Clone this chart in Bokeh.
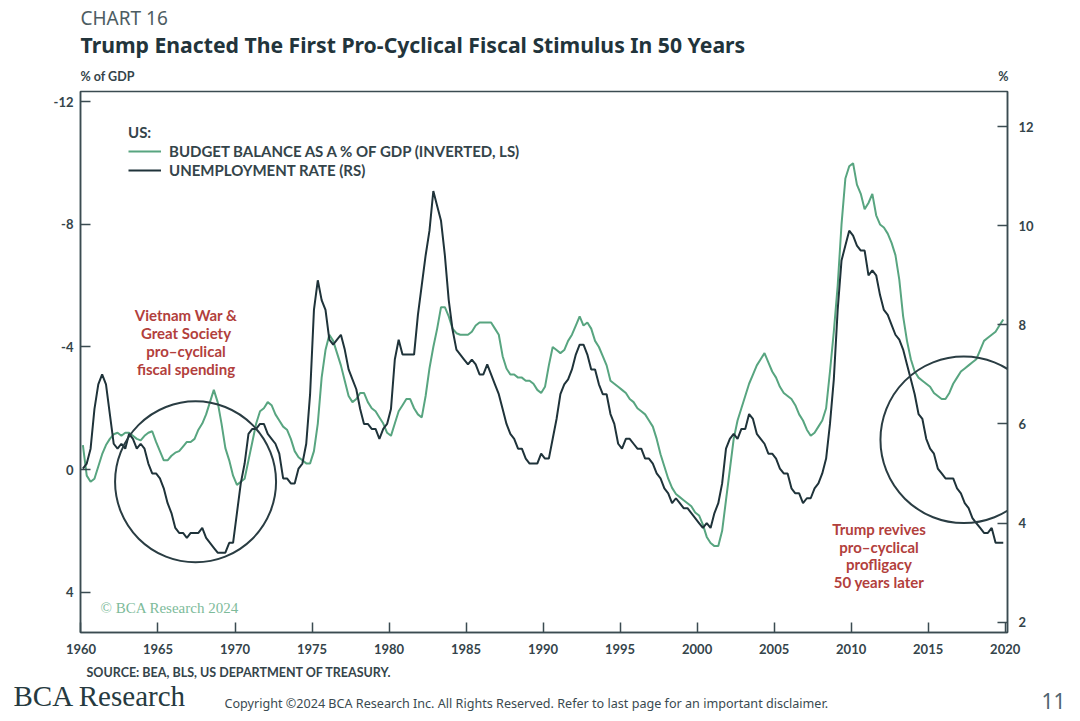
from bokeh.plotting import figure
from bokeh.layouts import column
from bokeh.models import Range1d, LinearAxis, FixedTicker, Label, Legend, LegendItem
from bokeh.embed import file_html
from bokeh.resources import INLINE

# ---------------- data (quarterly) ----------------
start_year = 1960
unemployment_rate = [
    5.1, 5.2, 5.5, 6.3,   # 1960
    6.8, 7.0, 6.8, 6.2,   # 1961
    5.6, 5.5, 5.6, 5.5,   # 1962
    5.8, 5.7, 5.5, 5.6,   # 1963
    5.5, 5.2, 5.0, 5.0,   # 1964
    4.9, 4.7, 4.4, 4.2,   # 1965
    3.9, 3.8, 3.8, 3.7,   # 1966
    3.8, 3.8, 3.8, 3.9,   # 1967
    3.7, 3.6, 3.5, 3.4,   # 1968
    3.4, 3.4, 3.6, 3.6,   # 1969
    4.2, 4.8, 5.2, 5.8,   # 1970
    5.9, 5.9, 6.0, 6.0,   # 1971
    5.8, 5.7, 5.6, 5.4,   # 1972
    4.9, 4.9, 4.8, 4.8,   # 1973
    5.1, 5.2, 5.6, 6.6,   # 1974
    8.3, 8.9, 8.5, 8.3,   # 1975
    7.7, 7.6, 7.7, 7.8,   # 1976
    7.5, 7.1, 6.9, 6.7,   # 1977
    6.3, 6.0, 6.0, 5.9,   # 1978
    5.9, 5.7, 5.9, 6.0,   # 1979
    6.3, 7.3, 7.7, 7.4,   # 1980
    7.4, 7.4, 7.4, 8.2,   # 1981
    8.8, 9.4, 9.9, 10.7,  # 1982
    10.4, 10.1, 9.4, 8.5, # 1983
    7.9, 7.5, 7.4, 7.3,   # 1984
    7.2, 7.3, 7.2, 7.0,   # 1985
    7.0, 7.2, 7.0, 6.8,   # 1986
    6.6, 6.3, 6.0, 5.8,   # 1987
    5.7, 5.5, 5.5, 5.3,   # 1988
    5.2, 5.2, 5.2, 5.4,   # 1989
    5.3, 5.3, 5.7, 6.1,   # 1990
    6.6, 6.8, 6.9, 7.1,   # 1991
    7.4, 7.6, 7.6, 7.4,   # 1992
    7.1, 7.1, 6.8, 6.6,   # 1993
    6.6, 6.2, 6.0, 5.6,   # 1994
    5.5, 5.7, 5.7, 5.6,   # 1995
    5.5, 5.5, 5.3, 5.3,   # 1996
    5.2, 5.0, 4.9, 4.7,   # 1997
    4.6, 4.4, 4.5, 4.4,   # 1998
    4.3, 4.3, 4.2, 4.1,   # 1999
    4.0, 3.9, 4.0, 3.9,   # 2000
    4.2, 4.4, 4.8, 5.5,   # 2001
    5.7, 5.8, 5.7, 5.9,   # 2002
    5.9, 6.2, 6.1, 5.8,   # 2003
    5.7, 5.6, 5.4, 5.4,   # 2004
    5.3, 5.1, 5.0, 5.0,   # 2005
    4.7, 4.6, 4.6, 4.4,   # 2006
    4.5, 4.5, 4.7, 4.8,   # 2007
    5.0, 5.3, 6.0, 6.9,   # 2008
    8.3, 9.3, 9.6, 9.9,   # 2009
    9.8, 9.6, 9.5, 9.5,   # 2010
    9.0, 9.1, 9.0, 8.6,   # 2011
    8.3, 8.2, 8.0, 7.8,   # 2012
    7.7, 7.5, 7.2, 6.9,   # 2013
    6.6, 6.2, 6.1, 5.7,   # 2014
    5.5, 5.4, 5.1, 5.0,   # 2015
    4.9, 4.9, 4.9, 4.7,   # 2016
    4.6, 4.4, 4.3, 4.1,   # 2017
    4.0, 3.9, 3.8, 3.8,   # 2018
    3.9, 3.6, 3.6, 3.6,   # 2019
]
budget_balance_pct_gdp = [
    -0.8, 0.2, 0.4, 0.3,      # 1960
    -0.1, -0.5, -0.8, -1.0,   # 1961
    -1.15, -1.2, -1.1, -1.2,  # 1962
    -1.2, -1.1, -1.0, -0.95,  # 1963
    -1.1, -1.2, -1.25, -0.9,  # 1964
    -0.6, -0.3, -0.3, -0.45,  # 1965
    -0.55, -0.6, -0.75, -0.9, # 1966
    -0.9, -1.0, -1.3, -1.5,   # 1967
    -1.8, -2.2, -2.6, -2.2,   # 1968
    -1.5, -0.7, -0.3, 0.2,    # 1969
    0.5, 0.4, 0.3, -0.3,      # 1970
    -0.9, -1.5, -1.9, -2.0,   # 1971
    -2.2, -2.1, -1.8, -1.6,   # 1972
    -1.4, -1.3, -1.0, -0.6,   # 1973
    -0.4, -0.3, -0.2, -0.2,   # 1974
    -0.6, -1.5, -3.0, -3.9,   # 1975
    -4.4, -4.2, -3.8, -3.4,   # 1976
    -2.9, -2.4, -2.2, -2.3,   # 1977
    -2.5, -2.5, -2.2, -2.0,   # 1978
    -1.9, -1.7, -1.5, -1.2,   # 1979
    -1.1, -1.5, -1.9, -2.1,   # 1980
    -2.3, -2.3, -2.0, -1.8,   # 1981
    -1.7, -2.4, -3.3, -4.0,   # 1982
    -4.6, -5.3, -5.3, -5.0,   # 1983
    -4.6, -4.45, -4.4, -4.4,  # 1984
    -4.4, -4.5, -4.7, -4.8,   # 1985
    -4.8, -4.8, -4.8, -4.6,   # 1986
    -4.4, -3.7, -3.3, -3.1,   # 1987
    -3.1, -3.0, -3.0, -2.9,   # 1988
    -2.9, -2.8, -2.6, -2.5,   # 1989
    -2.7, -3.4, -4.0, -3.9,   # 1990
    -3.8, -3.9, -4.2, -4.4,   # 1991
    -4.7, -5.0, -4.7, -4.8,   # 1992
    -4.6, -4.2, -4.0, -3.7,   # 1993
    -3.4, -2.9, -2.8, -2.7,   # 1994
    -2.6, -2.5, -2.3, -2.2,   # 1995
    -2.0, -1.9, -1.8, -1.6,   # 1996
    -1.4, -1.0, -0.5, -0.1,   # 1997
    0.3, 0.6, 0.8, 0.9,       # 1998
    1.0, 1.1, 1.2, 1.4,       # 1999
    1.5, 1.8, 2.2, 2.4,       # 2000
    2.5, 2.5, 2.0, 1.0,       # 2001
    0.0, -1.0, -1.6, -2.0,    # 2002
    -2.4, -2.8, -3.1, -3.4,   # 2003
    -3.6, -3.8, -3.5, -3.2,   # 2004
    -3.0, -2.7, -2.5, -2.4,   # 2005
    -2.3, -2.1, -1.8, -1.6,   # 2006
    -1.3, -1.1, -1.2, -1.4,   # 2007
    -1.6, -2.0, -3.2, -4.5,   # 2008
    -6.0, -8.0, -9.5, -9.9,   # 2009
    -10.0, -9.3, -9.0, -8.5,  # 2010
    -8.7, -9.0, -8.3, -8.0,   # 2011
    -7.9, -7.7, -7.4, -7.0,   # 2012
    -6.2, -5.0, -4.2, -3.6,   # 2013
    -3.2, -3.0, -2.9, -2.8,   # 2014
    -2.7, -2.5, -2.4, -2.3,   # 2015
    -2.3, -2.5, -2.8, -3.0,   # 2016
    -3.2, -3.3, -3.4, -3.5,   # 2017
    -3.6, -3.9, -4.2, -4.3,   # 2018
    -4.4, -4.5, -4.7, -4.9,   # 2019
]
dates = [start_year + (i + 0.5) / 4 for i in range(len(unemployment_rate))]

year_ticks = list(range(1960, 2021, 5))
left_ticks = [-12, -8, -4, 0, 4]
right_ticks = [2, 4, 6, 8, 10, 12]

# ---------------- styling ----------------
GREEN = "#58a580"
DARK = "#1f333a"
AXIS = "#3b4b51"
TEXT = "#34444a"
RED = "#b2403c"
TICK_FONT = "Lato"
W = 1080


def add_label(fig, text, x, y, size, color=TEXT, font=TICK_FONT, style="bold", align="left"):
    fig.add_layout(Label(x=x, y=y, x_units="screen", y_units="screen", text=text,
                         text_font=font, text_font_style=style, text_font_size=size,
                         text_color=color, text_align=align, text_baseline="middle"))


def text_strip(height):
    f = figure(width=W, height=height, output_backend="svg", toolbar_location=None,
               x_range=Range1d(0, W), y_range=Range1d(0, height),
               x_axis_type=None, y_axis_type=None, min_border=0,
               outline_line_color=None, background_fill_color="white",
               border_fill_color="white")
    f.frame_align = False
    return f


# ---------------- header strip (page y 0..84) ----------------
TOP_H = 84
top = text_strip(TOP_H)
add_label(top, "CHART 16", 80, TOP_H - 17, "19px", color="#4d5c62", font="Noto Sans", style="normal")
add_label(top, "Trump Enacted The First Pro-Cyclical Fiscal Stimulus In 50 Years", 80, TOP_H - 44,
          "21.2px", color="#22343b", font="Noto Sans", style="bold")
add_label(top, "% of GDP", 80, TOP_H - 76, "12.5px")
add_label(top, "%", 1008, TOP_H - 76, "12.5px", align="right")

# ---------------- main chart (page y 84..664) ----------------
MAIN_H = 580
p = figure(width=W, height=MAIN_H, output_backend="svg", toolbar_location=None,
           x_range=Range1d(1959.97, 2020.15), y_range=Range1d(5.32, -12.34),
           min_border_left=80, min_border_right=73, min_border_top=7, min_border_bottom=32,
           background_fill_color="white", border_fill_color="white")
p.frame_align = False
p.extra_y_ranges = {"u": Range1d(1.79, 12.71)}
p.xgrid.visible = False
p.ygrid.visible = False
p.outline_line_color = AXIS
p.outline_line_width = 1.5

right_axis = LinearAxis(y_range_name="u")
p.add_layout(right_axis, "right")

p.xaxis.ticker = FixedTicker(ticks=year_ticks)
p.yaxis[0].ticker = FixedTicker(ticks=left_ticks)
right_axis.ticker = FixedTicker(ticks=right_ticks)
p.yaxis[0].major_label_overrides = {t: str(t) for t in left_ticks}

for ax in [p.xaxis[0], p.yaxis[0], right_axis]:
    ax.axis_line_color = AXIS
    ax.axis_line_width = 1.5
    ax.major_tick_line_color = AXIS
    ax.major_tick_line_width = 1.5
    ax.major_tick_in = 10
    ax.major_tick_out = 0
    ax.minor_tick_line_color = None
    ax.major_label_text_font = TICK_FONT
    ax.major_label_text_font_style = "bold"
    ax.major_label_text_font_size = "13px"
    ax.major_label_text_color = TEXT
p.xaxis[0].major_label_standoff = 11
p.yaxis[0].major_label_standoff = 7
right_axis.major_label_standoff = 11

g = p.line(dates, budget_balance_pct_gdp, line_color=GREEN, line_width=2)
d = p.line(dates, unemployment_rate, line_color=DARK, line_width=2, y_range_name="u")

# highlight circles
p.circle(x=[1967.44], y=[0.40], radius=80.5, radius_units="screen",
         fill_color=None, line_color="#2a3d43", line_width=2)
p.circle(x=[2017.31], y=[-0.97], radius=83.3, radius_units="screen",
         fill_color=None, line_color="#2a3d43", line_width=2)

legend = Legend(items=[
    LegendItem(label="BUDGET BALANCE AS A % OF GDP (INVERTED, LS)", renderers=[g]),
    LegendItem(label="UNEMPLOYMENT RATE (RS)", renderers=[d]),
], title="US:", location=(48, 453))
legend.background_fill_alpha = 0
legend.border_line_color = None
legend.padding = 0
legend.margin = 0
legend.spacing = 1
legend.glyph_width = 33
legend.glyph_height = 18
legend.label_height = 18
legend.label_standoff = 8
legend.label_text_font = TICK_FONT
legend.label_text_font_style = "bold"
legend.label_text_font_size = "15px"
legend.label_text_color = TEXT
legend.title_text_font = TICK_FONT
legend.title_text_font_style = "bold"
legend.title_text_font_size = "15px"
legend.title_text_color = TEXT
legend.title_standoff = 1
p.add_layout(legend)

# annotations (frame-relative screen coords; frame bottom is page y 632)
for i, t in enumerate(["Vietnam War &", "Great Society", "pro\u2013cyclical", "fiscal spending"]):
    add_label(p, t, 105.5, 318 - 18 * i, "15px", color=RED, align="center")
for i, t in enumerate(["Trump revives", "pro\u2013cyclical", "profligacy", "50 years later"]):
    add_label(p, t, 798.5, 103.7 - 17.8 * i, "15px", color=RED, align="center")
add_label(p, "\u00a9 BCA Research 2024", 20, 25, "15px", color="#7dbb9a",
          font="Liberation Serif", style="normal")

# ---------------- footer strip (page y 664..720) ----------------
BOT_H = 56
bottom = text_strip(BOT_H)
add_label(bottom, "SOURCE: BEA, BLS, US DEPARTMENT OF TREASURY.", 86, 720 - 672, "12.5px")
add_label(bottom, "BCA Research", 13, 720 - 695, "29px", color="#263a40",
          font="Liberation Serif", style="normal")
add_label(bottom, "Copyright \u00a92024 BCA Research Inc. All Rights Reserved. Refer to last page for an important disclaimer.",
          224, 720 - 703, "12.6px", color="#3a4a50", font="Noto Sans", style="normal")
add_label(bottom, "11", 1065, 720 - 700, "21px", color="#4f6470", font="Noto Sans",
          style="normal", align="right")

layout = column(top, p, bottom, spacing=0)
open("out.html", "w").write(file_html(layout, INLINE))
